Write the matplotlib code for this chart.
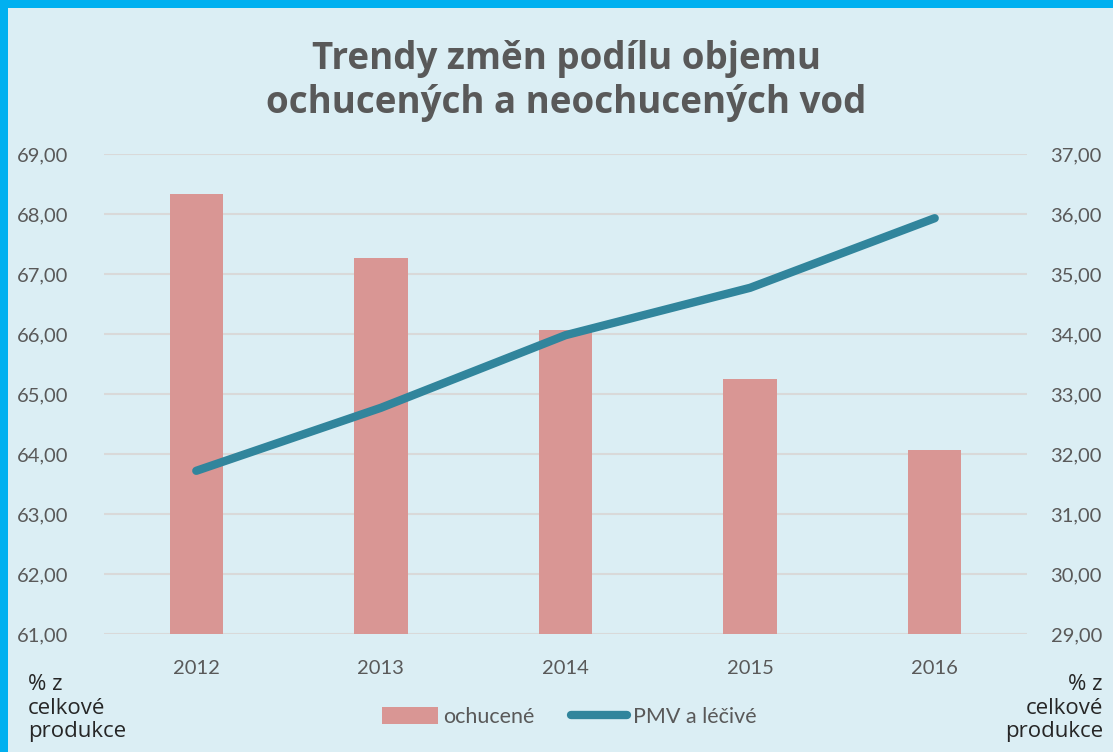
import matplotlib
matplotlib.use("Agg")
import matplotlib.pyplot as plt
from matplotlib.patches import Rectangle
from matplotlib.lines import Line2D

years = ["2012", "2013", "2014", "2015", "2016"]
ochucene = [68.33, 67.27, 66.07, 65.25, 64.07]
pmv = [31.72, 32.77, 33.98, 34.77, 35.93]
left_ticks = [61, 62, 63, 64, 65, 66, 67, 68, 69]
right_ticks = [29, 30, 31, 32, 33, 34, 35, 36, 37]
title = "Trendy změn podílu objemu\nochucených a neochucených vod"
unit_label = "% z\ncelkové\nprodukce"

BG = "#dbeef4"
BORDER = "#00b0f0"
BAR = "#d99694"
LINE = "#31859c"
TXT = "#595959"
GRID = "#d9d9d9"

plt.rcParams["font.family"] = ["Lato", "DejaVu Sans"]

W, H = 1113, 752
fig = plt.figure(figsize=(W / 100, H / 100), dpi=100)
fig.patch.set_facecolor(BORDER)
fig.patches.append(Rectangle((8 / W, 0), 1, 1 - 8 / H, transform=fig.transFigure,
                             facecolor=BG, edgecolor="none", zorder=-10))

x0, x1 = 104, 1027
y_top, y_bot = 154, 634
ax = fig.add_axes([x0 / W, 1 - y_bot / H, (x1 - x0) / W, (y_bot - y_top) / H])
ax.set_facecolor("none")
idx = list(range(len(years)))
ax.bar(idx, [v - left_ticks[0] for v in ochucene], bottom=left_ticks[0], width=0.29,
       color=BAR, zorder=2)
ax.set_xlim(-0.5, len(years) - 0.5)
ax.set_ylim(left_ticks[0], left_ticks[-1])
ax.set_yticks(left_ticks)
ax.set_yticklabels([f"{t:.2f}".replace(".", ",") for t in left_ticks])
ax.set_xticks(idx)
ax.set_xticklabels(years)
ax.grid(axis="y", color=GRID, linewidth=1.5, zorder=0)
ax.set_axisbelow(True)
for s in ax.spines.values():
    s.set_visible(False)
ax.tick_params(axis="both", length=0, labelsize=14.5, labelcolor=TXT)
ax.tick_params(axis="y", pad=26)
ax.tick_params(axis="x", pad=19)

ax2 = ax.twinx()
ax2.plot(idx, pmv, color=LINE, linewidth=6, solid_capstyle="round",
         solid_joinstyle="round", zorder=3)
ax2.set_ylim(right_ticks[0], right_ticks[-1])
ax2.set_yticks(right_ticks)
ax2.set_yticklabels([f"{t:.2f}".replace(".", ",") for t in right_ticks])
for s in ax2.spines.values():
    s.set_visible(False)
ax2.tick_params(axis="y", length=0, labelsize=14.5, labelcolor=TXT, pad=17)

fig.text(566 / W, 1 - 81 / H, title, ha="center", va="center", fontsize=26.5,
         fontweight="bold", color=TXT, family="Open Sans", linespacing=1.2)

fig.text(28 / W, 1 - 708 / H, unit_label, ha="left", va="center", fontsize=16,
         color="#262626", family="Open Sans", linespacing=1.18)
fig.text(1103 / W, 1 - 708 / H, unit_label, ha="right", va="center", fontsize=16,
         color="#262626", family="Open Sans", linespacing=1.18, multialignment="right")

handles = [Rectangle((0, 0), 1, 1, facecolor=BAR, edgecolor="none"),
           Line2D([0], [0], color=LINE, linewidth=6, solid_capstyle="round")]
leg = fig.legend(handles, ["ochucené", "PMV a léčivé"], loc="center",
                 bbox_to_anchor=(569 / W, 1 - 717 / H), ncol=2, frameon=False,
                 fontsize=15.5, labelcolor=TXT, handlelength=2.6, handleheight=0.85,
                 handletextpad=0.25, columnspacing=1.7)

fig.savefig("out.png", dpi=100, facecolor=fig.get_facecolor())
